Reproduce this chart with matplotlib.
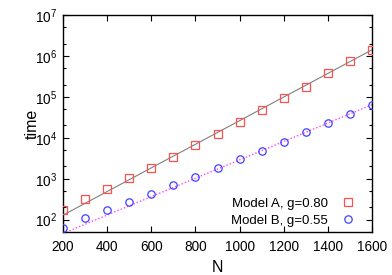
import matplotlib
matplotlib.use("Agg")
import matplotlib.pyplot as plt
import numpy as np
from matplotlib.ticker import LogLocator, FixedLocator

plt.rcParams['font.family'] = ['Liberation Sans', 'DejaVu Sans']
plt.rcParams['mathtext.fontset'] = 'custom'
plt.rcParams['mathtext.rm'] = 'Liberation Sans'

N = [200, 300, 400, 500, 600, 700, 800, 900, 1000, 1100, 1200, 1300, 1400, 1500, 1600]
time_A = [170, 325, 570, 1030, 1860, 3450, 6600, 12600, 24500, 49000, 96000,
          175000, 380000, 740000, 1400000]
time_B = [62, 108, 175, 275, 430, 690, 1090, 1830, 2960, 4800, 8100,
          13500, 22500, 38000, 65000]
fit_N = [200, 1600]
fit_A = [129, 1.41e6]
fit_B = [46, 64500]
label_A = "Model A, g=0.80"
label_B = "Model B, g=0.55"

fig = plt.figure(figsize=(3.92, 2.75), dpi=100)
ax = fig.add_axes([0.1607, 0.1564, 0.949 - 0.1607, 0.9455 - 0.1564])

ax.plot(fit_N, fit_A, color='#808080', lw=0.8, zorder=2)
ax.plot(fit_N, fit_B, color='#ff44ff', lw=1.0, ls=(0, (1, 1.5)), zorder=2)
hA, = ax.plot(N, time_A, ls='none', marker='s', ms=5.3, mfc='none',
              mec='#ff5050', mew=0.9, label=label_A, zorder=3)
hB, = ax.plot(N, time_B, ls='none', marker='o', ms=5.3, mfc='none',
              mec='#4040ff', mew=0.9, label=label_B, zorder=3)

ax.set_yscale('log')
ax.set_xlim(200, 1600)
ax.set_ylim(50, 1e7)
ax.xaxis.set_major_locator(FixedLocator(np.arange(200, 1601, 200)))
ax.yaxis.set_major_locator(LogLocator(base=10, numticks=20))
ax.yaxis.set_minor_locator(LogLocator(base=10, subs=(2.0, 5.0), numticks=20))
ax.yaxis.set_minor_formatter(matplotlib.ticker.NullFormatter())
ax.tick_params(which='both', direction='in', top=True, right=True,
               labelsize=9.8, width=0.8, colors='black', pad=4)
ax.tick_params(axis='x', pad=6)
ax.tick_params(which='major', length=4)
ax.tick_params(which='minor', length=2.5)
for s in ax.spines.values():
    s.set_linewidth(1.0)

ax.set_xlabel('N', fontsize=11.5, labelpad=4)
ax.set_ylabel('time', fontsize=11.5, labelpad=-3)

ax.legend(handles=[hA, hB], loc='lower right', frameon=False, markerfirst=False,
          fontsize=9.5, handlelength=1.0, handletextpad=1.0, borderaxespad=0.0,
          labelspacing=0.35, bbox_to_anchor=(0.96, 0.0))

fig.savefig('out.png', dpi=100)
